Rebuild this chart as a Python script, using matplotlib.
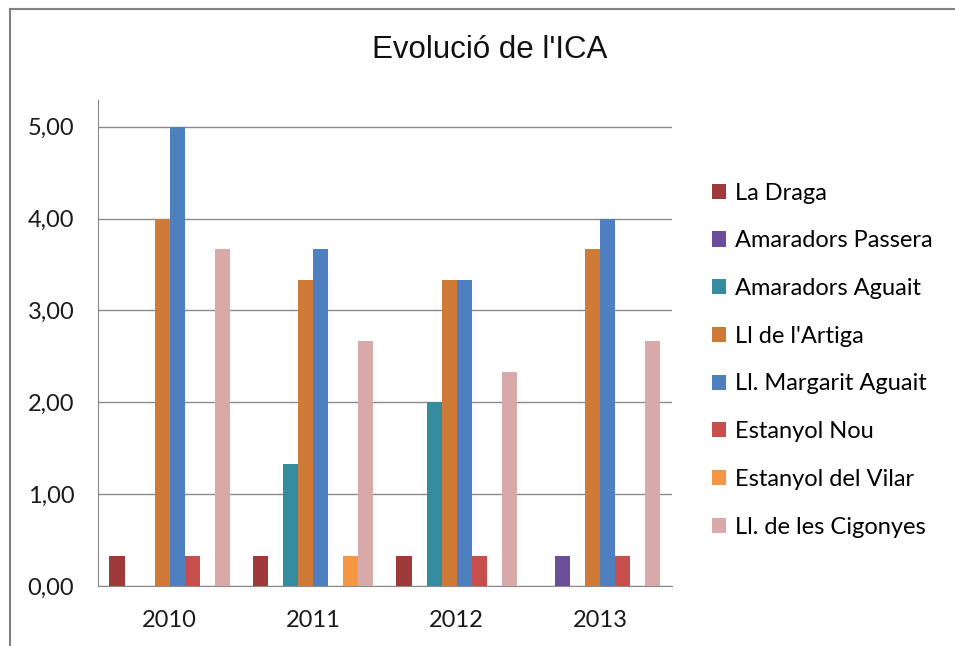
import numpy as np
import matplotlib.pyplot as plt
from matplotlib.lines import Line2D

# Dades
anys = ['2010', '2011', '2012', '2013']
series = ['La Draga', 'Amaradors Passera', 'Amaradors Aguait', "Ll de l'Artiga",
          'Ll. Margarit Aguait', 'Estanyol Nou', 'Estanyol del Vilar', 'Ll. de les Cigonyes']
la_draga = [0.33, 0.33, 0.33, 0.0]
amaradors_passera = [0.0, 0.0, 0.0, 0.33]
amaradors_aguait = [0.0, 1.33, 2.0, 0.0]
ll_artiga = [4.0, 3.33, 3.33, 3.67]
ll_margarit = [5.0, 3.67, 3.33, 4.0]
estanyol_nou = [0.33, 0.0, 0.33, 0.33]
estanyol_vilar = [0.0, 0.33, 0.0, 0.0]
ll_cigonyes = [3.67, 2.67, 2.33, 2.67]
valors = [la_draga, amaradors_passera, amaradors_aguait, ll_artiga,
          ll_margarit, estanyol_nou, estanyol_vilar, ll_cigonyes]

colors = ['#9E3B3A', '#6B4E99', '#358C9E', '#CF7A36',
          '#4E80C0', '#C84E4C', '#F49642', '#D9A9A9']

fig = plt.figure(figsize=(9.55, 6.46), dpi=100)
# vora del grafic (nomes esquerra i dalt es veuen)
fig.lines.append(Line2D([0.0105, 0.0105], [0.0, 0.986], transform=fig.transFigure,
                        color='#808080', linewidth=1.5))
fig.lines.append(Line2D([0.0105, 1.0], [0.986, 0.986], transform=fig.transFigure,
                        color='#808080', linewidth=1.5))
ax = fig.add_axes([0.1026, 0.093, 0.601, 0.752])

x = np.arange(len(anys))
w = 0.105
for i, (nom, v) in enumerate(zip(series, valors)):
    ax.bar(x + (i - 3.5) * w, v, w, color=colors[i], label=nom, zorder=3)

ax.set_xlim(-0.5, 3.5)
ax.set_ylim(0, 5.29)
ax.set_yticks([0, 1, 2, 3, 4, 5])
ax.set_yticklabels(['0,00', '1,00', '2,00', '3,00', '4,00', '5,00'])
ax.set_xticks(x)
ax.set_xticklabels(anys)
ax.yaxis.grid(True, color='#8A8A8A', linewidth=1.0, zorder=0)
for s in ['top', 'right']:
    ax.spines[s].set_visible(False)
ax.spines['left'].set_color('#8A8A8A')
ax.spines['bottom'].set_color('#8A8A8A')
ax.tick_params(axis='x', length=0, pad=17, labelsize=17, labelcolor='#1A1A1A')
ax.tick_params(axis='y', length=0, pad=17, labelsize=17, labelcolor='#1A1A1A')
for t in ax.get_xticklabels() + ax.get_yticklabels():
    t.set_family(['Lato', 'DejaVu Sans'])

fig.text(0.513, 0.910, "Evolució de l'ICA", ha='center', va='baseline', fontsize=22.5,
         family=['Liberation Sans', 'DejaVu Sans'], color='#111111')

fig.legend(loc='upper left', bbox_to_anchor=(0.723, 0.750), frameon=False,
           prop={'family': ['Lato', 'DejaVu Sans'], 'size': 17},
           handlelength=0.62, handleheight=0.62, handletextpad=0.35, labelspacing=1.13)

fig.savefig('out.png', dpi=100)
